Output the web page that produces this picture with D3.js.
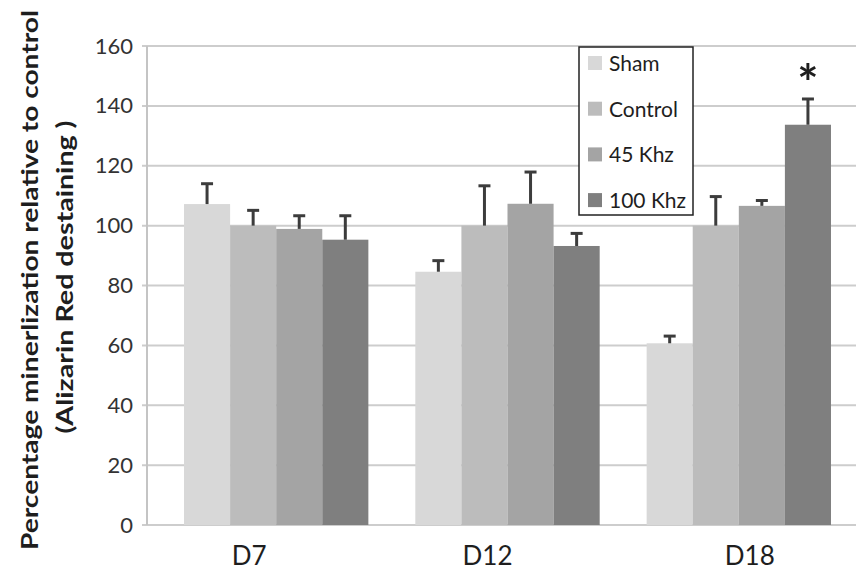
<!DOCTYPE html>
<html>
<head>
<meta charset="utf-8">
<script src="https://cdn.jsdelivr.net/npm/d3@7"></script>
<style>
  html, body { margin: 0; padding: 0; background: #fff; }
  svg { display: block; font-family: Lato, "Open Sans", sans-serif; }
</style>
</head>
<body>
<svg id="chart" width="856" height="574"></svg>
<script>
// Days of culture (x categories)
const days = ["D7", "D12", "D18"];
// Treatment groups (series)
const groups = ["Sham", "Control", "45 Khz", "100 Khz"];
// Mean mineralization, % of control, per group for each day
const sham     = [107.2, 84.6, 60.7];
const control  = [100.0, 100.0, 100.0];
const khz45    = [98.9, 107.3, 106.6];
const khz100   = [95.3, 93.2, 133.7];
// Upper error (SD) per group for each day
const shamErr    = [6.8, 3.7, 2.4];
const controlErr = [5.1, 13.3, 9.7];
const khz45Err   = [4.4, 10.6, 1.8];
const khz100Err  = [8.0, 4.2, 8.6];
// Y axis ticks
const yTicks = [0, 20, 40, 60, 80, 100, 120, 140, 160];
// Significance marks: [day, group, label]
const marks = [["D18", "100 Khz", "*"]];

const means = [sham, control, khz45, khz100];
const errs = [shamErr, controlErr, khz45Err, khz100Err];
const colors = ["#d8d8d8", "#bcbcbc", "#a4a4a4", "#7f7f7f"];

const svg = d3.select("#chart");
const plot = { left: 147, right: 868, top: 46, bottom: 525 };

const x = d3.scaleBand().domain(days)
  .range([plot.left, plot.right])
  .paddingInner(0.203).paddingOuter(0.16);
const xs = d3.scaleBand().domain(groups).range([0, x.bandwidth()]);
const y = d3.scaleLinear().domain([0, 160]).range([plot.bottom, plot.top]);

// Horizontal gridlines
svg.append("g").selectAll("line").data(yTicks).join("line")
  .attr("x1", plot.left - 5).attr("x2", plot.right)
  .attr("y1", d => y(d)).attr("y2", d => y(d))
  .attr("stroke", "#cdcdcd").attr("stroke-width", 2);

// Y axis line
svg.append("line")
  .attr("x1", plot.left).attr("x2", plot.left)
  .attr("y1", y(160)).attr("y2", y(0))
  .attr("stroke", "#c4c4c4").attr("stroke-width", 2);

// Y tick labels
const yAxis = d3.axisLeft(y).tickValues(yTicks).tickSize(0).tickPadding(14);
const gy = svg.append("g").attr("transform", `translate(${plot.left},0)`).call(yAxis);
gy.select(".domain").remove();
gy.selectAll("text").attr("font-size", 22).attr("fill", "#333")
  .attr("font-family", "Lato, sans-serif");

// Bars
const rows = [];
days.forEach((d, i) => groups.forEach((g, j) => rows.push({ day: d, group: g, j, v: means[j][i], e: errs[j][i] })));

svg.append("g").selectAll("rect").data(rows).join("rect")
  .attr("x", r => x(r.day) + xs(r.group))
  .attr("width", xs.bandwidth())
  .attr("y", r => y(r.v))
  .attr("height", r => y(0) - y(r.v))
  .attr("fill", r => colors[r.j]);

// Error bars (upper only)
const eb = svg.append("g").attr("stroke", "#3c3c3c").attr("stroke-width", 3);
rows.forEach(r => {
  const cx = x(r.day) + xs(r.group) + xs.bandwidth() / 2;
  eb.append("line").attr("x1", cx).attr("x2", cx).attr("y1", y(r.v)).attr("y2", y(r.v + r.e));
  eb.append("line").attr("x1", cx - 6).attr("x2", cx + 6).attr("y1", y(r.v + r.e)).attr("y2", y(r.v + r.e));
});

// Significance asterisk
marks.forEach(([d, g, lab]) => {
  const j = groups.indexOf(g), i = days.indexOf(d);
  svg.append("text")
    .attr("x", x(d) + xs(g) + xs.bandwidth() / 2)
    .attr("y", y(means[j][i] + errs[j][i]) + 2)
    .attr("text-anchor", "middle")
    .attr("font-size", 50).attr("font-weight", 700).attr("fill", "#1e1e1e")
    .text(lab);
});

// X axis labels
const labelShift = { D7: -27, D12: -20, D18: 11 };
svg.append("g").selectAll("text").data(days).join("text")
  .attr("x", d => x(d) + x.bandwidth() / 2 + labelShift[d])
  .attr("y", 565)
  .attr("text-anchor", "middle")
  .attr("font-size", 26).attr("fill", "#1e1e1e")
  .text(d => d);

// Y axis title (two lines)
const title = svg.append("g").attr("font-weight", 700).attr("fill", "#1e1e1e").attr("font-size", 23);
title.append("text")
  .attr("transform", "translate(38,280) rotate(-90)")
  .attr("text-anchor", "middle")
  .attr("textLength", 540).attr("lengthAdjust", "spacingAndGlyphs")
  .text("Percentage minerlization relative to control");
title.append("text")
  .attr("transform", "translate(73,277) rotate(-90)")
  .attr("text-anchor", "middle")
  .attr("textLength", 313).attr("lengthAdjust", "spacingAndGlyphs")
  .text("(Alizarin Red destaining )");

// Legend
const lg = svg.append("g").attr("transform", "translate(579,47)");
lg.append("rect").attr("width", 114).attr("height", 168)
  .attr("fill", "#fff").attr("stroke", "#222").attr("stroke-width", 1.5);
groups.forEach((g, j) => {
  const cy = 16 + j * 45.7;
  lg.append("rect").attr("x", 9).attr("y", cy - 7).attr("width", 14).attr("height", 14).attr("fill", colors[j]);
  lg.append("text").attr("x", 30).attr("y", cy + 8)
    .attr("font-size", 21).attr("fill", "#1e1e1e").text(g);
});
</script>
</body>
</html>
